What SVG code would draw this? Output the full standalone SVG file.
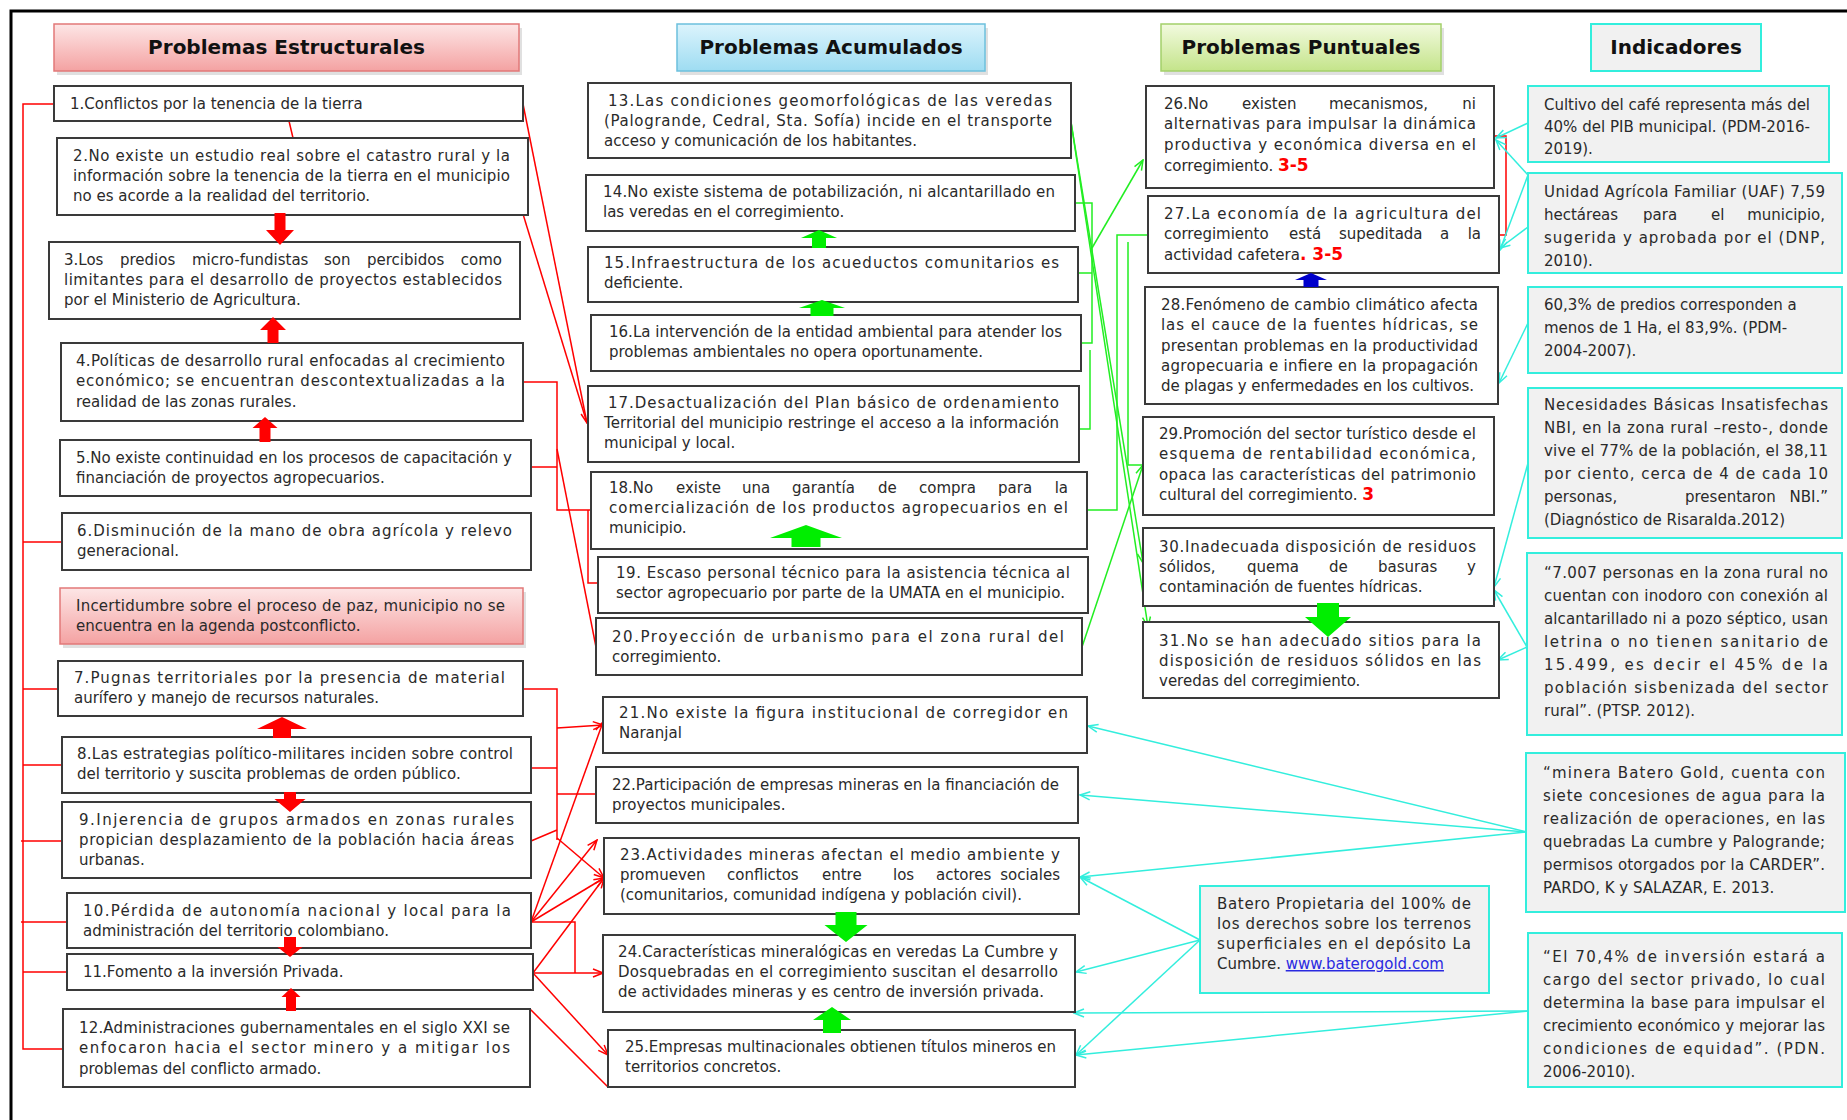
<svg xmlns="http://www.w3.org/2000/svg" width="1847" height="1120" viewBox="0 0 1847 1120">
<defs>
<style>
.b{fill:#fff;stroke:#3a3a3a;stroke-width:2}
.ind{fill:#f1f1f1;stroke:#33eedd;stroke-width:2}
.t{font-family:"DejaVu Sans",sans-serif;font-size:15px;fill:#2a2a2a}
.h{font-family:"DejaVu Sans",sans-serif;font-size:20px;font-weight:bold;fill:#111;text-anchor:middle}
.r{fill:#f00;font-weight:bold;font-size:17px}
.cr{fill:none;stroke:#f00;stroke-width:1.5}
.cg{fill:none;stroke:#22ee22;stroke-width:1.5}
.cc{fill:none;stroke:#33eedd;stroke-width:1.5}
.sh{fill:#000;opacity:0.12}
</style>
<linearGradient id="gp" x1="0" y1="0" x2="0" y2="1"><stop offset="0" stop-color="#fde6e6"/><stop offset="1" stop-color="#f4a2a2"/></linearGradient>
<linearGradient id="gb" x1="0" y1="0" x2="0" y2="1"><stop offset="0" stop-color="#dcf4fc"/><stop offset="1" stop-color="#9edcf2"/></linearGradient>
<linearGradient id="gg" x1="0" y1="0" x2="0" y2="1"><stop offset="0" stop-color="#f2fadf"/><stop offset="1" stop-color="#c4e48a"/></linearGradient>
<marker id="mr" viewBox="0 0 12 10" refX="11" refY="5" markerWidth="12" markerHeight="10" markerUnits="userSpaceOnUse" orient="auto"><path d="M1,1 L11,5 L1,9" fill="none" stroke="#f00" stroke-width="1.5"/></marker>
<marker id="mg" viewBox="0 0 12 10" refX="11" refY="5" markerWidth="12" markerHeight="10" markerUnits="userSpaceOnUse" orient="auto"><path d="M1,1 L11,5 L1,9" fill="none" stroke="#22ee22" stroke-width="1.5"/></marker>
<marker id="mc" viewBox="0 0 12 10" refX="11" refY="5" markerWidth="12" markerHeight="10" markerUnits="userSpaceOnUse" orient="auto"><path d="M1,1 L11,5 L1,9" fill="none" stroke="#33eedd" stroke-width="1.5"/></marker>
</defs>
<rect width="1847" height="1120" fill="#fff"/>
<path d="M11,1120 V11 H1847" fill="none" stroke="#000" stroke-width="3"/>

<g id="connectors">
<path class="cr" d="M54,104 H23 V1049 H63 M23,542 H62 M23,689 H58 M23,765 H62 M21,841 H62 M21,922 H67 M23,972 H67"/>
<path class="cr" d="M289,121 L293,138"/>
<path class="cr" d="M523,104 L587,423" marker-end="url(#mr)"/>
<path class="cr" d="M523,214 L587,423"/>
<path class="cr" d="M523,382 H557 V510 H591 M531,467 H557 M588,510 V583 H598"/>
<path class="cr" d="M557,449 L596,647"/>
<path class="cr" d="M523,689 H557 V840 M531,768 H557 M531,841 L557,830 M557,794 H596"/>
<path class="cr" d="M557,728 L603,725" marker-end="url(#mr)"/>
<path class="cr" d="M557,838 L604,878" marker-end="url(#mr)"/>
<path class="cr" d="M531,922 L603,722" marker-end="url(#mr)"/>
<path class="cr" d="M531,922 L597,840" marker-end="url(#mr)"/>
<path class="cr" d="M531,922 L604,878" marker-end="url(#mr)"/>
<path class="cr" d="M531,922 H575 V973"/>
<path class="cr" d="M533,973 H603" marker-end="url(#mr)"/>
<path class="cr" d="M533,973 L604,878" marker-end="url(#mr)"/>
<path class="cr" d="M533,973 L608,1055" marker-end="url(#mr)"/>
<path class="cr" d="M530,1009 L608,1087"/>
<path class="cr" d="M1494,136 H1506 V235 H1499"/>

<path class="cg" d="M1071,122 L1143,563" marker-end="url(#mg)"/>
<path class="cg" d="M1071,122 L1148,627" marker-end="url(#mg)"/>
<path class="cg" d="M1075,203 H1092 V343 H1081 M1078,273 H1092"/>
<path class="cg" d="M1092,248 L1143,160" marker-end="url(#mg)"/>
<path class="cg" d="M1072,429 H1090 V350"/>
<path class="cg" d="M1087,510 H1117 V235 H1148"/>
<path class="cg" d="M1128,242 V465 H1143"/>
<path class="cg" d="M1082,647 L1143,465" marker-end="url(#mg)"/>

<path class="cc" d="M1528,123 L1496,138" marker-end="url(#mc)"/>
<path class="cc" d="M1528,175 L1496,140" marker-end="url(#mc)"/>
<path class="cc" d="M1528,227 L1500,248" marker-end="url(#mc)"/>
<path class="cc" d="M1528,175 L1500,250" marker-end="url(#mc)"/>
<path class="cc" d="M1528,323 L1499,383" marker-end="url(#mc)"/>
<path class="cc" d="M1528,463 L1494,587" marker-end="url(#mc)"/>
<path class="cc" d="M1527,647 L1494,590" marker-end="url(#mc)"/>
<path class="cc" d="M1527,647 L1498,660" marker-end="url(#mc)"/>
<path class="cc" d="M1527,832 L1088,726" marker-end="url(#mc)"/>
<path class="cc" d="M1527,832 L1080,795" marker-end="url(#mc)"/>
<path class="cc" d="M1527,832 L1080,877" marker-end="url(#mc)"/>
<path class="cc" d="M1200,940 L1080,877" marker-end="url(#mc)"/>
<path class="cc" d="M1200,940 L1076,972" marker-end="url(#mc)"/>
<path class="cc" d="M1200,940 L1076,1055" marker-end="url(#mc)"/>
<path class="cc" d="M1528,1011 L1074,1013" marker-end="url(#mc)"/>
<path class="cc" d="M1528,1011 L1076,1055" marker-end="url(#mc)"/>
</g>

<g id="h1"><rect class="sh" x="57" y="28" width="465" height="47"/><rect x="54" y="24" width="465" height="47" fill="url(#gp)" stroke="#e27878" stroke-width="1.5"/><text class="h" x="286.5" y="54">Problemas Estructurales</text></g>
<g id="h2"><rect class="sh" x="680" y="28" width="308" height="47"/><rect x="677" y="24" width="308" height="47" fill="url(#gb)" stroke="#6cc0dd" stroke-width="1.5"/><text class="h" x="831" y="54">Problemas Acumulados</text></g>
<g id="h3"><rect class="sh" x="1164" y="28" width="280" height="47"/><rect x="1161" y="24" width="280" height="47" fill="url(#gg)" stroke="#a3d06a" stroke-width="1.5"/><text class="h" x="1301" y="54">Problemas Puntuales</text></g>
<g id="h4"><rect class="ind" x="1591" y="24" width="170" height="47"/><text class="h" x="1676" y="54">Indicadores</text></g>

<g id="n1"><rect class="b" x="54" y="86" width="469" height="35"/><text class="t" x="70" y="109">1.Conflictos por la tenencia de la tierra</text></g>
<g id="n2"><rect class="b" x="57" y="138" width="471" height="77"/>
<text class="t" x="73" y="161" textLength="437">2.No existe un estudio real sobre el catastro rural y la</text>
<text class="t" x="73" y="181" textLength="437">información sobre la tenencia de la tierra en el municipio</text>
<text class="t" x="73" y="201">no es acorde a la realidad del territorio.</text></g>
<g id="n3"><rect class="b" x="49" y="242" width="471" height="77"/>
<text class="t" y="265"><tspan x="64">3.Los</tspan><tspan x="120">predios</tspan><tspan x="192">micro-fundistas</tspan><tspan x="324">son</tspan><tspan x="367">percibidos</tspan><tspan x="502" text-anchor="end">como</tspan></text>
<text class="t" x="64" y="285" textLength="438">limitantes para el desarrollo de proyectos establecidos</text>
<text class="t" x="64" y="305">por el Ministerio de Agricultura.</text></g>
<g id="n4"><rect class="b" x="61" y="343" width="462" height="78"/>
<text class="t" x="76" y="366" textLength="429">4.Políticas de desarrollo rural enfocadas al crecimiento</text>
<text class="t" x="76" y="386" textLength="429">económico; se encuentran descontextualizadas a la</text>
<text class="t" x="76" y="407">realidad de las zonas rurales.</text></g>
<g id="n5"><rect class="b" x="60" y="440" width="471" height="56"/>
<text class="t" x="76" y="463" textLength="436">5.No existe continuidad en los procesos de capacitación y</text>
<text class="t" x="76" y="483">financiación de proyectos agropecuarios.</text></g>
<g id="n6"><rect class="b" x="62" y="513" width="469" height="57"/>
<text class="t" x="77" y="536" textLength="435">6.Disminución de la mano de obra agrícola y relevo</text>
<text class="t" x="77" y="556">generacional.</text></g>
<g id="np"><rect class="sh" x="63" y="592" width="463" height="56"/><rect x="60" y="588" width="463" height="56" fill="url(#gp)" stroke="#e27878" stroke-width="1.5"/>
<text class="t" x="76" y="611" textLength="429">Incertidumbre sobre el proceso de paz, municipio no se</text>
<text class="t" x="76" y="631">encuentra en la agenda postconflicto.</text></g>
<g id="n7"><rect class="b" x="58" y="661" width="465" height="55"/>
<text class="t" x="74" y="683" textLength="431">7.Pugnas territoriales por la presencia de material</text>
<text class="t" x="74" y="703">aurífero y manejo de recursos naturales.</text></g>
<g id="n8"><rect class="b" x="62" y="737" width="469" height="56"/>
<text class="t" x="77" y="759" textLength="436">8.Las estrategias político-militares inciden sobre control</text>
<text class="t" x="77" y="779">del territorio y  suscita problemas de orden público.</text></g>
<g id="n9"><rect class="b" x="62" y="802" width="469" height="76"/>
<text class="t" x="79" y="825" textLength="435">9.Injerencia de grupos armados en zonas rurales</text>
<text class="t" x="79" y="845" textLength="435">propician desplazamiento de la población hacia áreas</text>
<text class="t" x="79" y="865">urbanas.</text></g>
<g id="n10"><rect class="b" x="67" y="893" width="464" height="55"/>
<text class="t" x="83" y="916" textLength="428">10.Pérdida de autonomía nacional y local para la</text>
<text class="t" x="83" y="936">administración del territorio colombiano.</text></g>
<g id="n11"><rect class="b" x="67" y="954" width="466" height="36"/>
<text class="t" x="83" y="977">11.Fomento a la inversión Privada.</text></g>
<g id="n12"><rect class="b" x="63" y="1009" width="467" height="78"/>
<text class="t" x="79" y="1033" textLength="431">12.Administraciones gubernamentales en el siglo XXI se</text>
<text class="t" x="79" y="1053" textLength="431">enfocaron hacia el sector minero y a mitigar los</text>
<text class="t" x="79" y="1074">problemas del conflicto armado.</text></g>

<g id="n13"><rect class="b" x="588" y="83" width="483" height="75"/>
<text class="t" x="608" y="106" textLength="444">13.Las condiciones geomorfológicas   de las veredas</text>
<text class="t" x="604" y="126" textLength="448">(Palogrande, Cedral, Sta. Sofía) incide en el transporte</text>
<text class="t" x="604" y="146">acceso y comunicación de los habitantes.</text></g>
<g id="n14"><rect class="b" x="586" y="175" width="489" height="56"/>
<text class="t" x="603" y="197" textLength="452">14.No existe sistema de potabilización, ni alcantarillado en</text>
<text class="t" x="603" y="217">las veredas en el corregimiento.</text></g>
<g id="n15"><rect class="b" x="588" y="247" width="490" height="55"/>
<text class="t" x="604" y="268" textLength="455">15.Infraestructura de los acueductos comunitarios   es</text>
<text class="t" x="604" y="288">deficiente.</text></g>
<g id="n16"><rect class="b" x="591" y="315" width="490" height="56"/>
<text class="t" x="609" y="337" textLength="453">16.La intervención de la entidad ambiental para  atender los</text>
<text class="t" x="609" y="357">problemas ambientales no opera  oportunamente.</text></g>
<g id="n17"><rect class="b" x="588" y="386" width="491" height="76"/>
<text class="t" x="608" y="408" textLength="451">17.Desactualización del Plan básico de ordenamiento</text>
<text class="t" x="604" y="428" textLength="455">Territorial del municipio restringe el acceso a la información</text>
<text class="t" x="604" y="448">municipal y local.</text></g>
<g id="n18"><rect class="b" x="591" y="472" width="496" height="77"/>
<text class="t" y="493"><tspan x="609">18.No</tspan><tspan x="676">existe</tspan><tspan x="742">una</tspan><tspan x="792">garantía</tspan><tspan x="878">de</tspan><tspan x="919">compra</tspan><tspan x="998">para</tspan><tspan x="1068" text-anchor="end">la</tspan></text>
<text class="t" x="609" y="513" textLength="459">comercialización de los productos agropecuarios en el</text>
<text class="t" x="609" y="533">municipio.</text></g>
<g id="n19"><rect class="b" x="598" y="557" width="490" height="56"/>
<text class="t" x="616" y="578" textLength="454">19. Escaso personal técnico para la asistencia técnica al</text>
<text class="t" x="616" y="598" textLength="449">sector agropecuario por parte de la UMATA en el municipio.</text></g>
<g id="n20"><rect class="b" x="596" y="618" width="486" height="57"/>
<text class="t" x="612" y="642" textLength="452">20.Proyección de urbanismo para el zona rural del</text>
<text class="t" x="612" y="662">corregimiento.</text></g>
<g id="n21"><rect class="b" x="603" y="697" width="484" height="56"/>
<text class="t" x="619" y="718" textLength="449">21.No existe la figura institucional de corregidor en</text>
<text class="t" x="619" y="738">Naranjal</text></g>
<g id="n22"><rect class="b" x="596" y="767" width="482" height="56"/>
<text class="t" x="612" y="790" textLength="447">22.Participación de empresas mineras en la financiación de</text>
<text class="t" x="612" y="810">proyectos municipales.</text></g>
<g id="n23"><rect class="b" x="604" y="838" width="475" height="76"/>
<text class="t" x="620" y="860" textLength="440">23.Actividades mineras afectan el medio ambiente y</text>
<text class="t" y="880"><tspan x="620">promueven</tspan><tspan x="727">conflictos</tspan><tspan x="822">entre</tspan><tspan x="893">los</tspan><tspan x="936">actores</tspan><tspan x="1060" text-anchor="end">sociales</tspan></text>
<text class="t" x="620" y="900" textLength="402">(comunitarios, comunidad indígena y población civil).</text></g>
<g id="n24"><rect class="b" x="603" y="935" width="472" height="77"/>
<text class="t" x="618" y="957" textLength="440">24.Características mineralógicas  en veredas La Cumbre y</text>
<text class="t" x="618" y="977" textLength="440">Dosquebradas en el corregimiento suscitan el desarrollo</text>
<text class="t" x="618" y="997" textLength="426">de actividades mineras y es  centro de inversión privada.</text></g>
<g id="n25"><rect class="b" x="608" y="1030" width="467" height="57"/>
<text class="t" x="625" y="1052" textLength="431">25.Empresas multinacionales obtienen títulos mineros en</text>
<text class="t" x="625" y="1072">territorios concretos.</text></g>

<g id="n26"><rect class="b" x="1146" y="86" width="348" height="102"/>
<text class="t" y="109"><tspan x="1164">26.No</tspan><tspan x="1242">existen</tspan><tspan x="1329">mecanismos,</tspan><tspan x="1476" text-anchor="end">ni</tspan></text>
<text class="t" x="1164" y="129" textLength="312">alternativas para impulsar la dinámica</text>
<text class="t" x="1164" y="150" textLength="312">productiva y económica diversa en el</text>
<text class="t" x="1164" y="171">corregimiento. <tspan class="r">3-5</tspan></text></g>
<g id="n27"><rect class="b" x="1148" y="196" width="351" height="77"/>
<text class="t" x="1164" y="219" textLength="317">27.La economía de la agricultura del</text>
<text class="t" y="239"><tspan x="1164">corregimiento</tspan><tspan x="1289">está</tspan><tspan x="1339">supeditada</tspan><tspan x="1440">a</tspan><tspan x="1481" text-anchor="end">la</tspan></text>
<text class="t" x="1164" y="260">actividad cafetera<tspan class="r">. 3-5</tspan></text></g>
<g id="n28"><rect class="b" x="1145" y="287" width="353" height="117"/>
<text class="t" x="1161" y="310" textLength="317">28.Fenómeno de cambio climático afecta</text>
<text class="t" x="1161" y="330" textLength="317">las el cauce de la fuentes hídricas, se</text>
<text class="t" x="1161" y="351" textLength="317">presentan problemas en la productividad</text>
<text class="t" x="1161" y="371" textLength="317">agropecuaria e infiere en la propagación</text>
<text class="t" x="1161" y="391" textLength="313">de plagas y enfermedades en los cultivos.</text></g>
<g id="n29"><rect class="b" x="1143" y="417" width="351" height="98"/>
<text class="t" x="1159" y="439" textLength="317">29.Promoción del sector turístico desde el</text>
<text class="t" x="1159" y="459" textLength="317">esquema de rentabilidad económica,</text>
<text class="t" x="1159" y="480" textLength="317">opaca las características del patrimonio</text>
<text class="t" x="1159" y="500">cultural del corregimiento. <tspan class="r">3</tspan></text></g>
<g id="n30"><rect class="b" x="1143" y="528" width="351" height="78"/>
<text class="t" x="1159" y="552" textLength="317">30.Inadecuada disposición de residuos</text>
<text class="t" y="572"><tspan x="1159">sólidos,</tspan><tspan x="1247">quema</tspan><tspan x="1329">de</tspan><tspan x="1378">basuras</tspan><tspan x="1476" text-anchor="end">y</tspan></text>
<text class="t" x="1159" y="592">contaminación de fuentes hídricas.</text></g>
<g id="n31"><rect class="b" x="1143" y="622" width="356" height="76"/>
<text class="t" x="1159" y="646" textLength="322">31.No se han adecuado sitios para la</text>
<text class="t" x="1159" y="666" textLength="322">disposición de residuos sólidos en las</text>
<text class="t" x="1159" y="686">veredas del corregimiento.</text></g>

<g id="i1"><rect class="ind" x="1528" y="86" width="301" height="76"/>
<text class="t" x="1544" y="110" textLength="266">Cultivo del café representa más del</text>
<text class="t" x="1544" y="132" textLength="266">40% del PIB municipal. (PDM-2016-</text>
<text class="t" x="1544" y="154">2019).</text></g>
<g id="i2"><rect class="ind" x="1528" y="173" width="314" height="100"/>
<text class="t" x="1544" y="197" textLength="281">Unidad Agrícola Familiar (UAF) 7,59</text>
<text class="t" y="220"><tspan x="1544">hectáreas</tspan><tspan x="1643">para</tspan><tspan x="1711">el</tspan><tspan x="1825" text-anchor="end">municipio,</tspan></text>
<text class="t" x="1544" y="243" textLength="281">sugerida y aprobada por el (DNP,</text>
<text class="t" x="1544" y="266">2010).</text></g>
<g id="i3"><rect class="ind" x="1528" y="287" width="314" height="86"/>
<text class="t" x="1544" y="310">60,3% de predios corresponden a</text>
<text class="t" x="1544" y="333">menos de 1 Ha, el 83,9%. (PDM-</text>
<text class="t" x="1544" y="356">2004-2007).</text></g>
<g id="i4"><rect class="ind" x="1528" y="388" width="314" height="150"/>
<text class="t" x="1544" y="410" textLength="284">Necesidades Básicas Insatisfechas</text>
<text class="t" x="1544" y="433" textLength="284">NBI, en la zona rural –resto-, donde</text>
<text class="t" x="1544" y="456" textLength="284">vive el 77% de la población, el 38,11</text>
<text class="t" x="1544" y="479" textLength="284">por ciento, cerca de 4 de cada 10</text>
<text class="t" y="502"><tspan x="1544">personas,</tspan><tspan x="1685">presentaron</tspan><tspan x="1828" text-anchor="end">NBI.”</tspan></text>
<text class="t" x="1544" y="525">(Diagnóstico de Risaralda.2012)</text></g>
<g id="i5"><rect class="ind" x="1527" y="553" width="315" height="182"/>
<text class="t" x="1544" y="578" textLength="284">“7.007 personas en la zona rural no</text>
<text class="t" x="1544" y="601" textLength="284">cuentan con inodoro con conexión al</text>
<text class="t" x="1544" y="624" textLength="284">alcantarillado ni a pozo séptico, usan</text>
<text class="t" x="1544" y="647" textLength="284">letrina o no tienen sanitario de</text>
<text class="t" x="1544" y="670" textLength="284">15.499, es decir el 45% de la</text>
<text class="t" x="1544" y="693" textLength="284">población sisbenizada del sector</text>
<text class="t" x="1544" y="716">rural”. (PTSP. 2012).</text></g>
<g id="i6"><rect class="ind" x="1526" y="753" width="319" height="159"/>
<text class="t" x="1543" y="778" textLength="282">“minera Batero Gold, cuenta con</text>
<text class="t" x="1543" y="801" textLength="282">siete concesiones de agua para la</text>
<text class="t" x="1543" y="824" textLength="282">realización de operaciones, en las</text>
<text class="t" x="1543" y="847" textLength="282">quebradas La cumbre y Palogrande;</text>
<text class="t" x="1543" y="870" textLength="282">permisos otorgados por la CARDER”.</text>
<text class="t" x="1543" y="893">PARDO, K y SALAZAR,  E. 2013.</text></g>
<g id="i7"><rect class="ind" x="1528" y="933" width="314" height="154"/>
<text class="t" x="1543" y="962" textLength="282">“El  70,4% de inversión estará a</text>
<text class="t" x="1543" y="985" textLength="282">cargo del sector privado, lo cual</text>
<text class="t" x="1543" y="1008" textLength="282">determina la base para impulsar el</text>
<text class="t" x="1543" y="1031" textLength="282">crecimiento económico y mejorar las</text>
<text class="t" x="1543" y="1054" textLength="282">condiciones de equidad”. (PDN.</text>
<text class="t" x="1543" y="1077">2006-2010).</text></g>
<g id="nb"><rect class="ind" x="1200" y="886" width="289" height="107"/>
<text class="t" x="1217" y="909" textLength="254">Batero Propietaria del 100% de</text>
<text class="t" x="1217" y="929" textLength="254">los derechos sobre los terrenos</text>
<text class="t" x="1217" y="949" textLength="254">superficiales en el depósito La</text>
<text class="t" x="1217" y="969">Cumbre. <tspan fill="#2a2ae0" text-decoration="underline">www.baterogold.com</tspan></text></g>

<g id="block-arrows">
<polygon fill="#f00" points="274.5,213 285.5,213 285.5,230 294,230 280,245 266,230 274.5,230"/>
<polygon fill="#f00" points="273,317 286,330 278.5,330 278.5,343 267.5,343 267.5,330 260,330"/>
<polygon fill="#f00" points="265,417 277.5,428 270.5,428 270.5,442 259.5,442 259.5,428 252.5,428"/>
<polygon fill="#f00" points="282,717 307,729 291,729 291,738 273,738 273,729 257,729"/>
<polygon fill="#f00" points="284,792 296,792 296,799 305.5,799 290,812 274.5,799 284,799"/>
<polygon fill="#f00" points="284,937 296,937 296,947 302.5,947 290,957 277.5,947 284,947"/>
<polygon fill="#f00" points="291,988 300.5,997 296,997 296,1011 286,1011 286,997 281.5,997"/>
<polygon fill="#00ee00" points="819,230 837,238 826,238 826,248 812,248 812,238 801,238"/>
<polygon fill="#00ee00" points="822,300 845,308 833.5,308 833.5,316 810.5,316 810.5,308 799,308"/>
<polygon fill="#00ee00" points="806,525 842,538 820.5,538 820.5,547 791.5,547 791.5,538 770,538"/>
<polygon fill="#00ee00" points="835.5,912 856.5,912 856.5,925 867.5,925 846,942 824.5,925 835.5,925"/>
<polygon fill="#00ee00" points="832,1007 851,1020 841,1020 841,1033 823,1033 823,1020 813,1020"/>
<polygon fill="#00ee00" points="1317,603 1339,603 1339,617 1351,617 1328,637 1305,617 1317,617"/>
<polygon fill="#0000cc" points="1311,273 1327,280 1318.5,280 1318.5,287 1303.5,287 1303.5,280 1295,280"/>
</g>
</svg>
